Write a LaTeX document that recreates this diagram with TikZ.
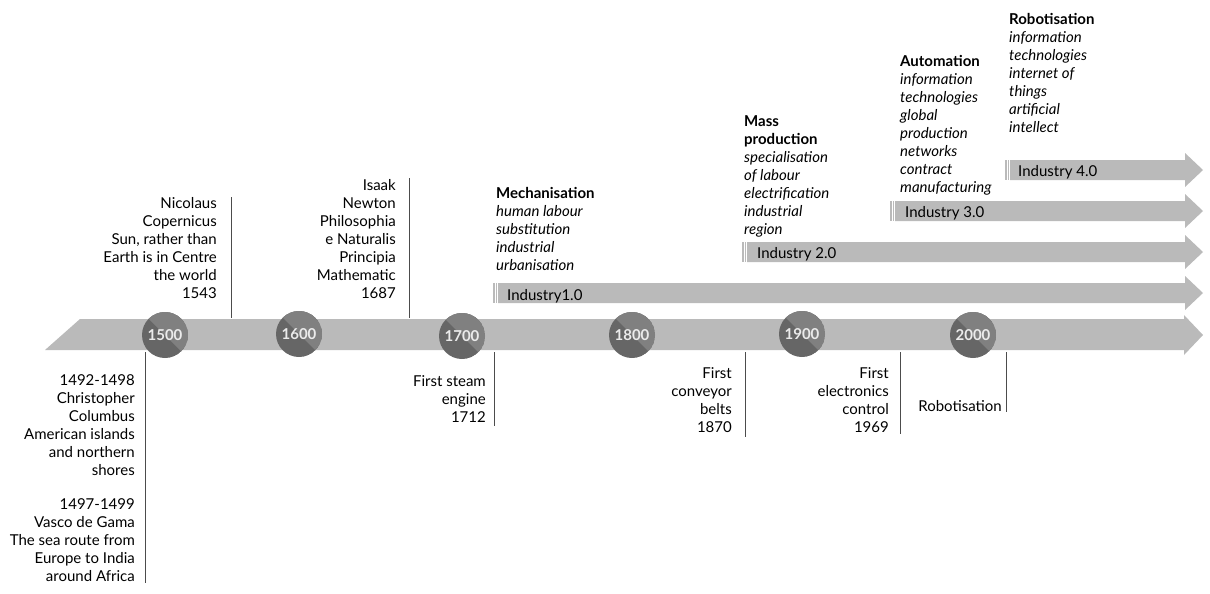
\documentclass[tikz,border=0pt]{standalone}
\usepackage{fontspec}
\setmainfont{Lato}
\begin{document}
\begin{tikzpicture}[x=1pt,y=-1pt,
 band/.style={fill=black!27,draw=none},
 lbl/.style={font=\fontsize{15}{18}\selectfont,inner sep=0pt,align=right,anchor=north east},
 lbll/.style={font=\fontsize{15}{18}\selectfont,inner sep=0pt,align=left,anchor=north west},
 vl/.style={draw=black!70,line width=0.6pt},
 yr/.style={font=\fontsize{15}{15}\selectfont\bfseries,text=black!8}]
\useasboundingbox (0,0) rectangle (1210,594);
\fill[band] (80,319) -- (1184,319) -- (1184,315) -- (1203,335) -- (1184,355) -- (1184,350) -- (45,350) -- cycle;
\foreach \y/\x in {293/493,252/742,211/890,170/1005}{
 \fill[band] (\x+5,\y-10) -- (1185,\y-10) -- (1185,\y-17) -- (1203,\y) -- (1185,\y+17) -- (1185,\y+10) -- (\x+5,\y+10) -- cycle;
 \fill[black!27] (\x,\y-10) rectangle ++(1.5,20);
 \fill[black!27] (\x+2.5,\y-10) rectangle ++(1.5,20);
}
\node[lbll,anchor=west] (i1) at (507,296) {Industry1.0};
\node[lbll,anchor=west] (i2) at (757,254) {Industry 2.0};
\node[lbll,anchor=west] (i3) at (905,213) {Industry 3.0};
\node[lbll,anchor=west] (i4) at (1018,172) {Industry 4.0};
\foreach \n/\x/\y in {1500/165/335,1600/299/334,1700/462/336,1800/632/335,1900/802/334,2000/973/335}{
 \begin{scope}
 \clip (\x,\y) circle (23);
 \fill[black!60] (\x,\y) circle (23);
 \fill[black!50] (\x-30,\y-30) -- (\x+30,\y+30) -- (\x+30,\y-30) -- cycle;
 \end{scope}
 \node[yr] (y\n) at (\x,\y) {\n};
}
\coordinate (a1) at (231,197); \coordinate (a1b) at (231,318); \draw[vl] (a1) -- (a1b);
\coordinate (a2) at (409,178); \coordinate (a2b) at (409,318); \draw[vl] (a2) -- (a2b);
\coordinate (b1) at (145,352); \coordinate (b1b) at (145,583); \draw[vl] (b1) -- (b1b);
\coordinate (b2) at (494,352); \coordinate (b2b) at (494,426); \draw[vl] (b2) -- (b2b);
\coordinate (b3) at (745,352); \coordinate (b3b) at (745,437); \draw[vl] (b3) -- (b3b);
\coordinate (b4) at (900,352); \coordinate (b4b) at (900,434); \draw[vl] (b4) -- (b4b);
\coordinate (b5) at (1006,352); \coordinate (b5b) at (1006,412); \draw[vl] (b5) -- (b5b);
\node[lbl] (t1) at (217,197) {Nicolaus\\Copernicus\\Sun, rather than\\Earth is in Centre\\the world\\1543};
\node[lbl] (t2) at (396,179) {Isaak\\Newton\\Philosophia\\e Naturalis\\Principia\\Mathematic\\1687};
\node[lbl] (t3) at (135,374) {1492-1498\\Christopher\\Columbus\\American islands\\and northern\\shores};
\node[lbl] (t4) at (135,498) {1497-1499\\Vasco de Gama\\The sea route from\\Europe to India\\around Africa};
\node[lbl] (t5) at (486,375) {First steam\\engine\\1712};
\node[lbl] (t6) at (732,367) {First\\conveyor\\belts\\1870};
\node[lbl] (t7) at (889,367) {First\\electronics\\control\\1969};
\node[lbl] (t8) at (1002,400) {Robotisation};
\node[lbll] (m1) at (496,187) {\textbf{Mechanisation}\\\itshape human labour\\\itshape substitution\\\itshape industrial\\\itshape urbanisation};
\node[lbll] (m2) at (744,115) {\textbf{Mass}\\\textbf{production}\\\itshape specialisation\\\itshape of labour\\\itshape electrification\\\itshape industrial\\\itshape region};
\node[lbll] (m3) at (900,55) {\textbf{Automation}\\\itshape information\\\itshape technologies\\\itshape global\\\itshape production\\\itshape networks\\\itshape contract\\\itshape manufacturing};
\node[lbll] (m4) at (1009,13) {\textbf{Robotisation}\\\itshape information\\\itshape technologies\\\itshape internet of\\\itshape things\\\itshape artificial\\\itshape intellect};
\end{tikzpicture}
\end{document}
